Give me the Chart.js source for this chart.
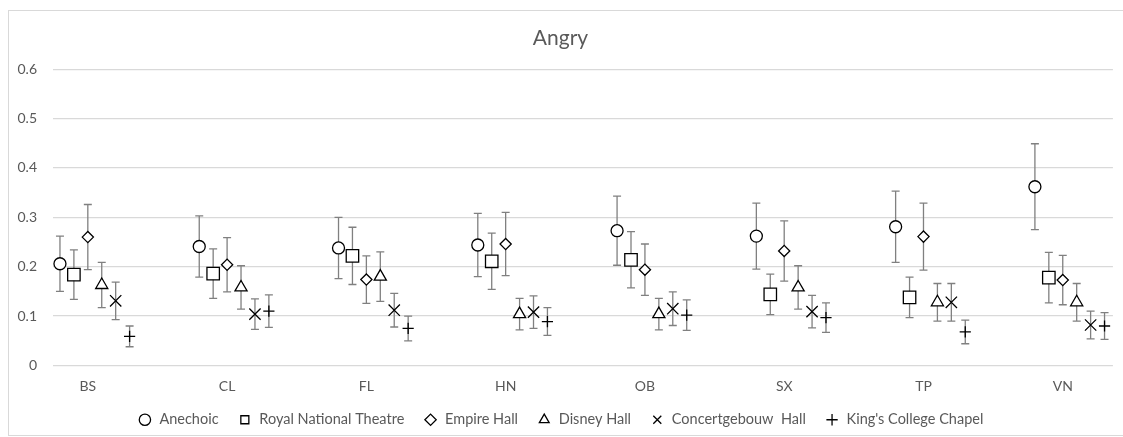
<!DOCTYPE html>
<html>
<head>
<meta charset="utf-8">
<script src="https://cdn.jsdelivr.net/npm/chart.js@4"></script>
<style>
  body { margin: 0; background: #fff; }
  #wrap { position: relative; width: 1123px; height: 437px; overflow: hidden; }
  #frame { position: absolute; left: 8px; top: 10px; width: 1300px; height: 426px; border: 1px solid #d9d9d9; box-sizing: border-box; }
  canvas { position: absolute; left: 0; top: 0; }
</style>
</head>
<body>
<div id="wrap">
  <div id="frame"></div>
  <canvas id="chart" width="1123" height="437"></canvas>
</div>
<script>
const categories = ['BS', 'CL', 'FL', 'HN', 'OB', 'SX', 'TP', 'VN'];
const seriesNames = ['Anechoic', 'Royal National Theatre', 'Empire Hall', 'Disney Hall', 'Concertgebouw  Hall', "King's College Chapel"];

const anechoic   = [0.206, 0.241, 0.238, 0.244, 0.273, 0.262, 0.281, 0.362];
const royal      = [0.184, 0.186, 0.222, 0.211, 0.214, 0.144, 0.138, 0.178];
const empire     = [0.260, 0.204, 0.174, 0.246, 0.194, 0.232, 0.261, 0.173];
const disney     = [0.163, 0.158, 0.180, 0.104, 0.104, 0.158, 0.128, 0.128];
const concert    = [0.131, 0.104, 0.112, 0.108, 0.115, 0.109, 0.128, 0.082];
const kings      = [0.059, 0.110, 0.075, 0.089, 0.102, 0.097, 0.068, 0.080];

const anechoicErr = [0.056, 0.062, 0.062, 0.064, 0.070, 0.067, 0.072, 0.087];
const royalErr    = [0.050, 0.050, 0.058, 0.057, 0.057, 0.041, 0.041, 0.051];
const empireErr   = [0.066, 0.055, 0.048, 0.064, 0.052, 0.061, 0.068, 0.050];
const disneyErr   = [0.046, 0.044, 0.050, 0.032, 0.032, 0.044, 0.038, 0.038];
const concertErr  = [0.038, 0.031, 0.034, 0.033, 0.034, 0.033, 0.038, 0.028];
const kingsErr    = [0.021, 0.033, 0.025, 0.028, 0.031, 0.030, 0.024, 0.027];

const yTicks = [0, 0.1, 0.2, 0.3, 0.4, 0.5, 0.6];

const values = [anechoic, royal, empire, disney, concert, kings];
const errors = [anechoicErr, royalErr, empireErr, disneyErr, concertErr, kingsErr];
const styles = ['circle', 'rect', 'rectRot', 'triangle', 'crossRot', 'cross'];
const radii = [6, 8.8, 5.6, 7, 8, 5.6];
const offsets = [-0.2, -0.1, 0, 0.1, 0.2, 0.3];

const FONT = 'Lato, "Open Sans", sans-serif';
const GREY = '#595959';

const datasets = values.map((vals, s) => ({
  label: seriesNames[s],
  data: vals.map((v, i) => ({ x: i + 1 + offsets[s], y: v })),
  errs: errors[s],
  pointStyle: styles[s],
  pointRadius: radii[s],
  pointHoverRadius: radii[s],
  borderColor: '#000',
  backgroundColor: '#fff',
  pointBorderWidth: 1.3,
  borderWidth: 1.3,
  showLine: false
}));

// vertical error bars with caps, drawn under the markers
const errorBars = {
  id: 'errorBars',
  beforeDatasetsDraw(chart) {
    const ctx = chart.ctx;
    const y = chart.scales.y;
    ctx.save();
    ctx.strokeStyle = '#808080';
    ctx.lineWidth = 1.3;
    chart.data.datasets.forEach((ds, s) => {
      const meta = chart.getDatasetMeta(s);
      meta.data.forEach((pt, i) => {
        const v = ds.data[i].y, e = ds.errs[i];
        const top = y.getPixelForValue(v + e);
        const bot = y.getPixelForValue(v - e);
        ctx.beginPath();
        ctx.moveTo(pt.x, top); ctx.lineTo(pt.x, bot);
        ctx.moveTo(pt.x - 4, top); ctx.lineTo(pt.x + 4, top);
        ctx.moveTo(pt.x - 4, bot); ctx.lineTo(pt.x + 4, bot);
        ctx.stroke();
      });
    });
    ctx.restore();
  }
};

new Chart(document.getElementById('chart'), {
  type: 'scatter',
  data: { datasets },
  plugins: [errorBars],
  options: {
    responsive: false,
    animation: false,
    layout: { padding: { left: 8, right: 10, top: 0, bottom: 0 } },
    plugins: {
      title: {
        display: true,
        text: 'Angry',
        color: GREY,
        font: { family: FONT, size: 21, weight: 'normal' },
        padding: { top: 26, bottom: 18 }
      },
      legend: {
        position: 'bottom',
        labels: {
          usePointStyle: true,
          boxHeight: 8,
          color: GREY,
          font: { family: FONT, size: 14.5 },
          padding: 19
        }
      },
      tooltip: { enabled: false }
    },
    scales: {
      x: {
        type: 'linear',
        min: 0.75,
        max: 8.36,
        afterBuildTicks: (scale) => { scale.ticks = categories.map((c, i) => ({ value: i + 1 })); },
        afterFit: (scale) => { scale.height = 28; },
        ticks: {
          color: GREY,
          font: { family: FONT, size: 14 },
          padding: 5,
          callback: (v) => categories[v - 1]
        },
        grid: { display: false },
        border: { display: false }
      },
      y: {
        min: 0,
        max: 0.6,
        afterBuildTicks: (scale) => { scale.ticks = yTicks.map(v => ({ value: v })); },
        afterFit: (scale) => { scale.width = 45; },
        ticks: {
          color: GREY,
          font: { family: FONT, size: 14 },
          padding: 16
        },
        grid: { color: '#d9d9d9', lineWidth: 1.3, drawTicks: false },
        border: { display: false }
      }
    }
  }
});
</script>
</body>
</html>
